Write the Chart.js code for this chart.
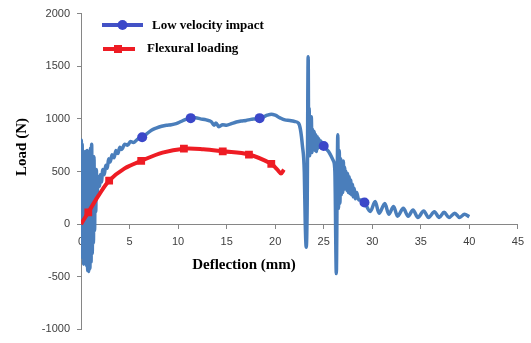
<!DOCTYPE html>
<html>
<head>
<meta charset="utf-8">
<script src="https://cdn.jsdelivr.net/npm/chart.js@4.4.1/dist/chart.umd.min.js"></script>
<style>
  html, body { margin: 0; padding: 0; background: #fff; }
  #wrap { width: 531px; height: 343px; }
</style>
</head>
<body>
<div id="wrap"><canvas id="loadChart"></canvas></div>
<script>
// Low velocity impact (deflection mm / load N)
const impactX = [
  0, 0.03, 0.08, 0.12, 0.17, 0.22, 0.27, 0.32, 0.37, 0.42, 0.48, 0.53, 0.58, 0.63, 0.69, 0.74,
  0.8, 0.86, 0.92, 0.98, 1.04, 1.1, 1.16, 1.22, 1.28, 1.34, 1.4, 1.46, 1.52, 1.58, 1.64, 1.7,
  1.8, 1.9, 2.0, 2.1, 2.25, 2.4, 2.55, 2.7, 2.85, 3.0, 3.2, 3.4, 3.6, 3.8, 4.0, 4.2, 4.5, 4.8,
  5.1, 5.4, 5.8, 6.3, 6.8, 7.3, 7.8, 8.3, 8.8, 9.3, 9.8, 10.3, 10.8, 11.3, 11.8, 12.3, 12.9,
  13.4, 13.7, 13.9, 14.2, 14.6, 15.0, 15.5, 16.0, 16.5, 17.0, 17.5, 18.0, 18.4, 18.8, 19.2,
  19.6, 20.0, 20.5, 21.0, 21.5, 22.0, 22.4, 22.6, 22.8, 23.0, 23.1, 23.2, 23.3, 23.4, 23.45,
  23.5, 23.55, 23.6, 23.65, 23.72, 23.8, 23.87, 23.95, 24.02, 24.1, 24.18, 24.25, 24.33, 24.4,
  24.5, 24.6, 24.7, 24.85, 25.0, 25.2, 25.5, 25.8, 26.0, 26.15, 26.3, 26.38, 26.45, 26.52,
  26.6, 26.67, 26.74, 26.81, 26.88, 26.95, 27.02, 27.09, 27.16, 27.23, 27.3, 27.38, 27.46,
  27.54, 27.62, 27.7, 27.78, 27.86, 27.95, 28.05, 28.15, 28.25, 28.4, 28.6, 28.9, 29.2,
  29.8, 30.3, 30.7, 31.3, 31.7, 32.2, 32.6, 33.2, 33.7, 34.2, 34.7, 35.3, 35.8, 36.4, 36.9,
  37.4, 37.9, 38.5, 39.0, 39.5, 40.0
];
const impactY = [
  0, 800, -150, 760, -320, 560, -380, 480, -260, 690, -340, 420, -400, 700, -440, 380,
  -450, 330, -420, 720, -360, 760, -280, 420, -180, 640, -60, 480, 120, 520, 250, 330,
  450, 360, 470, 400, 520, 470, 560, 530, 620, 590, 660, 630, 700, 670, 730, 710, 760, 750,
  785, 775, 805, 826, 860, 895, 915, 930, 940, 945, 955, 975, 995, 1007, 1010, 1000, 990,
  975, 940, 960, 925, 945, 940, 955, 970, 980, 985, 995, 1000, 1007, 1020, 1035,
  1045, 1035, 1010, 990, 985, 975, 960, 900, 750, 495, 0, -220, 200, 1590, 800,
  1100, 650, 950, 700, 1020, 680, 900, 720, 880, 700, 850, 690, 830, 720,
  810, 730, 790, 750, 742, 720, 690, 640, 600, 500, -470, 300, 850, 150,
  700, 200, 620, 280, 560, 300, 600, 330, 540, 340, 500, 320, 480,
  300, 450, 290, 420, 280, 380, 260, 340, 240, 300, 230, 230, 206,
  121, 215, 103, 196, 93, 168, 75, 150, 75, 134, 63, 125, 63, 118, 63,
  112, 63, 103, 63, 94, 70
];
const impactMarkers = [6.3, 11.3, 18.4, 25.0, 29.2];

// Flexural loading
const flexX = [0, 0.75, 1.8, 2.9, 4.5, 6.2, 8.4, 10.6, 12.6, 14.6, 17.3, 19.6, 20.2, 20.6, 20.9];
const flexY = [0, 112, 270, 414, 530, 601, 680, 717, 712, 692, 661, 573, 520, 482, 518];
const flexMarkers = [0.75, 2.9, 6.2, 10.6, 14.6, 17.3, 19.6];

const blueLine = '#4a7ebb';
const blueMark = '#3b47c9';
const red = '#ee1c24';
const tickFont = { family: '"Liberation Sans", Arial, sans-serif', size: 11 };

const titlesAndLegend = {
  id: 'titlesAndLegend',
  afterDraw(chart) {
    const ctx = chart.ctx;
    ctx.save();
    ctx.fillStyle = '#000';
    ctx.textBaseline = 'middle';
    ctx.font = 'bold 15px "Liberation Serif", "Times New Roman", serif';
    ctx.textAlign = 'center';
    ctx.fillText('Deflection (mm)', 244, 265);
    ctx.save();
    ctx.translate(22, 147);
    ctx.rotate(-Math.PI / 2);
    ctx.fillText('Load (N)', 0, 0);
    ctx.restore();

    // legend
    ctx.lineWidth = 4;
    ctx.strokeStyle = '#4352c6';
    ctx.beginPath(); ctx.moveTo(102, 25); ctx.lineTo(143, 25); ctx.stroke();
    ctx.fillStyle = blueMark;
    ctx.beginPath(); ctx.arc(122.5, 25, 5, 0, Math.PI * 2); ctx.fill();
    ctx.strokeStyle = red;
    ctx.beginPath(); ctx.moveTo(103, 49); ctx.lineTo(135, 49); ctx.stroke();
    ctx.fillStyle = red;
    ctx.fillRect(114, 45, 8, 8);

    ctx.fillStyle = '#000';
    ctx.textAlign = 'left';
    ctx.font = 'bold 13px "Liberation Serif", "Times New Roman", serif';
    ctx.fillText('Low velocity impact', 152, 26);
    ctx.fillText('Flexural loading', 147, 49);
    ctx.restore();
  }
};

const ctx = document.getElementById('loadChart').getContext('2d');
new Chart(ctx, {
  type: 'line',
  data: {
    datasets: [
      {
        label: 'Flexural loading',
        data: flexX.map((x, i) => ({ x: x, y: flexY[i] })),
        borderColor: red,
        backgroundColor: red,
        borderWidth: 4,
        pointStyle: 'rect',
        pointRadius: c => flexMarkers.includes(flexX[c.dataIndex]) ? 5.5 : 0,
        pointBorderWidth: 0,
        tension: 0.35,
        order: 1
      },
      {
        label: 'Low velocity impact',
        data: impactX.map((x, i) => ({ x: x, y: impactY[i] })),
        borderColor: blueLine,
        backgroundColor: blueMark,
        borderWidth: 3.5,
        pointRadius: c => impactMarkers.includes(impactX[c.dataIndex]) ? 5 : 0,
        pointBorderWidth: 0,
        pointBackgroundColor: blueMark,
        cubicInterpolationMode: 'monotone',
        order: 2
      }
    ]
  },
  options: {
    responsive: true,
    maintainAspectRatio: false,
    animation: false,
    layout: { padding: { top: 12, right: 9, bottom: 10, left: 0 } },
    scales: {
      x: {
        type: 'linear',
        position: { y: 0 },
        min: 0,
        max: 45,
        ticks: { stepSize: 5, font: tickFont, color: '#404040', padding: 7 },
        grid: { drawOnChartArea: false, tickLength: 4, color: '#868686' },
        border: { color: '#868686' }
      },
      y: {
        type: 'linear',
        min: -1000,
        max: 2000,
        ticks: { stepSize: 500, font: tickFont, color: '#404040', padding: 7, callback: v => String(v) },
        grid: { drawOnChartArea: false, tickLength: 4, color: '#868686' },
        border: { color: '#868686' },
        afterFit: s => { s.width = 81; }
      }
    },
    plugins: {
      legend: { display: false },
      tooltip: { enabled: false }
    }
  },
  plugins: [titlesAndLegend]
});
</script>
</body>
</html>
